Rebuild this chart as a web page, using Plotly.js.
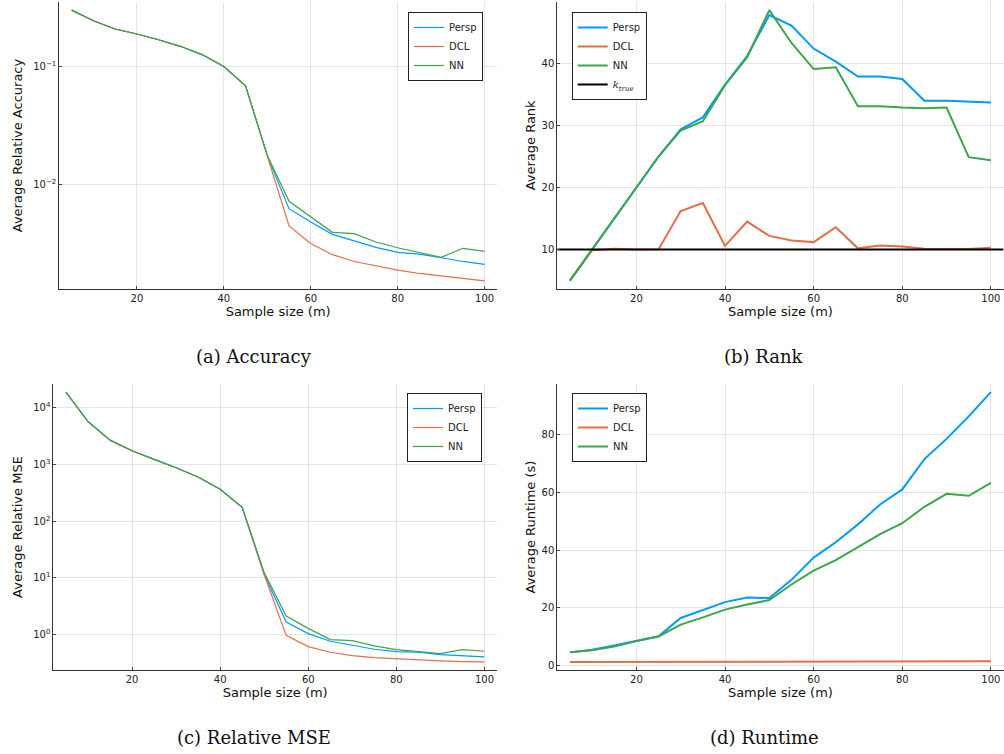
<!DOCTYPE html>
<html>
<head>
<meta charset="utf-8">
<script src="https://cdn.plot.ly/plotly-3.0.1.min.js"></script>
<style>html,body{margin:0;padding:0;background:#fff;}#chart{width:1004px;height:754px;}</style>
</head>
<body>
<div id="chart"></div>
<script>
// ---------- data ----------
const sampleSize = [5,10,15,20,25,30,35,40,45,50,55,60,65,70,75,80,85,90,95,100];

const accPersp = [0.299,0.243,0.207,0.188,0.168,0.148,0.126,0.100,0.0687,0.0176,0.00631,0.00486,0.00383,0.00339,0.00297,0.00270,0.00261,0.00243,0.00226,0.00214];
const accDCL   = [0.299,0.243,0.207,0.188,0.168,0.148,0.126,0.100,0.0687,0.0172,0.00451,0.00321,0.00258,0.00226,0.00208,0.00191,0.00179,0.00170,0.00163,0.00155];
const accNN    = [0.299,0.243,0.207,0.188,0.168,0.148,0.126,0.100,0.0687,0.0178,0.00728,0.00540,0.00398,0.00388,0.00330,0.00295,0.00270,0.00245,0.00292,0.00275];

const rankPersp = [5,10,15,20,25,29.4,31.3,36.6,41.2,47.8,46.1,42.4,40.3,37.9,37.9,37.5,34.0,34.0,33.8,33.7];
const rankDCL   = [5,9.9,10.15,10,10.05,16.2,17.5,10.6,14.5,12.2,11.45,11.2,13.6,10.2,10.65,10.5,10.15,10.15,10.1,10.3];
const rankNN    = [5,10,15,20,25,29.2,30.7,36.5,41.0,48.6,43.3,39.1,39.4,33.1,33.1,32.9,32.8,32.9,24.9,24.4];
const kTrue = 10;

const msePersp = [19000,5750,2700,1750,1233,880,602,366,176,11.5,1.67,1.04,0.763,0.658,0.552,0.502,0.489,0.445,0.427,0.404];
const mseDCL   = [19000,5750,2700,1750,1233,880,602,366,176,11.5,0.97,0.615,0.489,0.427,0.394,0.373,0.353,0.344,0.335,0.330];
const mseNN    = [19000,5750,2700,1750,1233,880,602,366,176,12.5,2.13,1.29,0.816,0.784,0.631,0.544,0.502,0.463,0.544,0.509];

const timePersp = [4.6,5.5,7.0,8.6,10.2,16.5,19.2,22.0,23.6,23.4,29.7,37.4,42.7,48.9,55.8,61.0,71.5,78.5,86.3,94.7];
const timeDCL   = [1.3,1.3,1.3,1.35,1.35,1.35,1.4,1.4,1.35,1.35,1.4,1.4,1.45,1.45,1.45,1.45,1.5,1.5,1.5,1.5];
const timeNN    = [4.6,5.3,6.6,8.5,10.1,14.2,16.7,19.4,21.2,22.7,28.1,32.9,36.5,41.0,45.5,49.3,55.0,59.5,58.8,63.3];

const seriesNames = ["Persp","DCL","NN"];
const kTrueLabel = '<span style="font-family:\'DejaVu Serif\'"><i>k</i><sub><i>true</i></sub></span>';
const xTicks = [20,40,60,80,100];
const accTicks = [0.1,0.01];
const accTickText = ["10<sup>−1</sup>","10<sup>−2</sup>"];
const rankTicks = [10,20,30,40];
const mseTicks = [1,10,100,1000,10000];
const mseTickText = ["10<sup>0</sup>","10<sup>1</sup>","10<sup>2</sup>","10<sup>3</sup>","10<sup>4</sup>"];
const timeTicks = [0,20,40,60,80];
const captions = ["(a) Accuracy","(b) Rank","(c) Relative MSE","(d) Runtime"];
const xTitle = "Sample size (m)";
const yTitles = ["Average Relative Accuracy","Average Rank","Average Relative MSE","Average Runtime (s)"];

// ---------- helpers ----------
const colors = ["#009AFA","#E36F47","#3EA44E"];
const W = 1004, H = 754;
function pad(arrs, log){
  let v = [].concat(...arrs);
  if (log) v = v.map(Math.log10);
  const lo = Math.min(...v), hi = Math.max(...v), d = (hi-lo)*0.03;
  return [lo-d, hi+d];
}
const xRange = pad([sampleSize], false);
function dom(a,b,total){ return [a/total, b/total]; }
function ydom(top,bottom){ return [1-bottom/H, 1-top/H]; }

const tickFont = {family:"DejaVu Sans", size:10, color:"#222"};
const titleFont = {family:"DejaVu Sans", size:13, color:"#111"};
function xaxis(d, anchor){
  return {domain:d, anchor:anchor, range:xRange, tickvals:xTicks, ticks:"inside", ticklen:3, tickcolor:"#444",
    showline:true, linecolor:"#333", linewidth:1, showgrid:true, gridcolor:"rgba(0,0,0,0.1)", gridwidth:1,
    zeroline:false, tickfont:tickFont, title:{text:xTitle, font:titleFont, standoff:3}};
}
function yaxis(d, anchor, range, tv, tt, type, title, so){
  const a = {domain:d, anchor:anchor, range:range, tickvals:tv, ticks:"inside", ticklen:3, tickcolor:"#444",
    showline:true, linecolor:"#333", linewidth:1, showgrid:true, gridcolor:"rgba(0,0,0,0.1)", gridwidth:1,
    zeroline:false, tickfont:tickFont, title:{text:title, font:titleFont, standoff:so}};
  if (tt) a.ticktext = tt;
  if (type) a.type = type;
  return a;
}

const traces = [];
function addSet(ys, xa, ya, lg, w){
  ys.forEach((y,i)=>traces.push({x:sampleSize, y:y, type:"scatter", mode:"lines", name:seriesNames[i],
    line:{color:colors[i], width:w}, xaxis:xa, yaxis:ya, legend:lg}));
}
addSet([accPersp,accDCL,accNN], "x", "y", "legend", 1.2);
addSet([rankPersp,rankDCL,rankNN], "x2", "y2", "legend2", 2);
traces.push({x:xRange, y:xRange.map(()=>kTrue), type:"scatter", mode:"lines", name:kTrueLabel,
  line:{color:"#000", width:2}, xaxis:"x2", yaxis:"y2", legend:"legend2"});
addSet([msePersp,mseDCL,mseNN], "x3", "y3", "legend3", 1.2);
addSet([timePersp,timeDCL,timeNN], "x4", "y4", "legend4", 2);

const rankRange = pad([rankPersp,rankDCL,rankNN], false);
const timeRange = pad([timePersp,timeDCL,timeNN], false);
const accRange = pad([accPersp,accDCL,accNN], true);
const mseRange = pad([msePersp,mseDCL,mseNN], true);

function legend(xpx, ypx){
  return {x:xpx/W, y:1-ypx/H, xanchor:"left", yanchor:"top", bgcolor:"#fff", bordercolor:"#222", borderwidth:1,
    font:{family:"DejaVu Sans", size:10, color:"#222"}, itemwidth:30, tracegroupgap:0};
}
const capFont = {family:"DejaVu Serif", size:18, color:"#111"};
const annotations = [[254,356],[764,356],[254,737],[764,737]].map((p,i)=>({
  text:captions[i], xref:"paper", yref:"paper", x:p[0]/W, y:1-p[1]/H, xanchor:"center", yanchor:"middle",
  showarrow:false, font:capFont}));

const layout = {
  width:W, height:H, margin:{l:0,r:0,t:0,b:0}, paper_bgcolor:"#fff", plot_bgcolor:"#fff", showlegend:true,
  xaxis: xaxis(dom(59.3,497,W), "y"),
  yaxis: yaxis(ydom(2,289), "x", accRange, accTicks, accTickText, "log", yTitles[0], 7),
  xaxis2: xaxis(dom(557.3,1003.5,W), "y2"),
  yaxis2: yaxis(ydom(2,288.7), "x2", rankRange, rankTicks, null, null, yTitles[1], 3),
  xaxis3: xaxis(dom(53.4,497,W), "y3"),
  yaxis3: yaxis(ydom(384,670), "x3", mseRange, mseTicks, mseTickText, "log", yTitles[2], 7),
  xaxis4: xaxis(dom(557.3,1003.5,W), "y4"),
  yaxis4: yaxis(ydom(384,670), "x4", timeRange, timeTicks, null, null, yTitles[3], 3),
  legend: legend(408,12), legend2: legend(571.7,12), legend3: legend(407,393), legend4: legend(572,393),
  annotations: annotations
};
Plotly.newPlot("chart", traces, layout, {displayModeBar:false, staticPlot:true});
</script>
</body>
</html>
